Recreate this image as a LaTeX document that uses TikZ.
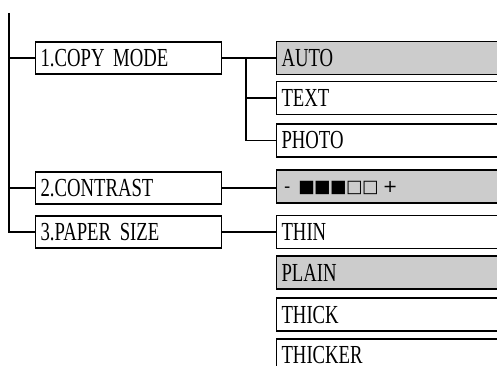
\documentclass[tikz,border=0pt]{standalone}
\usepackage{fontspec}
\newfontfamily\menufont{Liberation Serif}[FakeStretch=0.72]
\newfontfamily\symfont{DejaVu Sans}
\usetikzlibrary{positioning}

\begin{document}
\begin{tikzpicture}[x=1pt,y=-1pt,line join=miter,
  menubox/.style={draw,line width=1.1pt,anchor=west,minimum height=32pt,inner xsep=5pt,
    text width=176pt,align=left,text height=17pt,text depth=0pt,
    font=\menufont\fontsize{26}{27}\selectfont},
  optbox/.style={menubox,minimum height=33pt,text width=230pt},
  optsel/.style={optbox,fill=black!20},
  conn/.style={line width=1.4pt}]
\useasboundingbox (0,0) rectangle (497,366);
\clip (0,0) rectangle (497,366);
% menu items
\node[menubox] (copy) at (35,58) {1.COPY MODE};
\node[menubox] (contrast) at (35,188) {2.CONTRAST};
\node[menubox] (paper) at (35,232) {3.PAPER SIZE};
% settings
\node[optsel] (auto) at (276,58) {AUTO};
\node[optbox] (text) at (276,98) {TEXT};
\node[optbox] (photo) at (276,140.5) {PHOTO};
\node[optsel,text height=12pt] (level) at (276,186.5)
  {\symfont\fontsize{17.5}{18}\selectfont\kern2.6pt-\kern7.8pt ■\kern-0.6pt■\kern-0.6pt■\kern-0.6pt□\kern-0.6pt□\kern4.2pt+};
\node[optbox] (thin) at (276,232) {THIN};
\node[optsel] (plain) at (276,272.5) {PLAIN};
\node[optbox] (thick) at (276,314.5) {THICK};
\node[optbox,text depth=2pt] (thicker) at (276,355.5) {THICKER};
% trunk
\coordinate (top) at (9,13);
\draw[conn] (top) |- (paper.west);
\draw[conn] (top |- copy.west) -- (copy.west);
\draw[conn] (top |- contrast.west) -- (contrast.west);
% branches
\coordinate (fork) at (246,58);
\draw[conn] (copy.east) -- (auto.west);
\draw[conn] (fork) |- (text.west);
\draw[conn] (fork) |- (photo.west);
\draw[conn] (contrast.east) -- (contrast.east -| level.west);
\draw[conn] (paper.east) -- (thin.west);
\end{tikzpicture}
\end{document}
